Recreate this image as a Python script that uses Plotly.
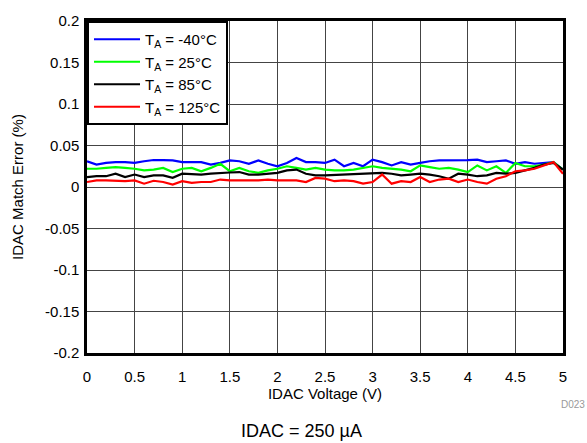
import plotly.graph_objects as go

voltage = [round(i * 0.1, 1) for i in range(51)]

err_m40 = [0.031, 0.027, 0.029, 0.030, 0.030, 0.029, 0.031, 0.0325, 0.0325, 0.032,
           0.030, 0.030, 0.030, 0.027, 0.029, 0.032, 0.031, 0.028, 0.032, 0.028,
           0.025, 0.029, 0.035, 0.030, 0.030, 0.029, 0.033, 0.025, 0.029, 0.025,
           0.033, 0.030, 0.026, 0.030, 0.027, 0.029, 0.031, 0.032, 0.032, 0.032,
           0.0325, 0.033, 0.030, 0.031, 0.032, 0.028, 0.030, 0.028, 0.029, 0.030,
           0.021]
err_25 = [0.022, 0.022, 0.023, 0.024, 0.023, 0.022, 0.020, 0.021, 0.023, 0.018,
          0.022, 0.023, 0.019, 0.023, 0.028, 0.019, 0.023, 0.019, 0.017, 0.020,
          0.022, 0.025, 0.023, 0.021, 0.023, 0.021, 0.020, 0.020, 0.021, 0.023,
          0.025, 0.023, 0.022, 0.021, 0.019, 0.026, 0.024, 0.022, 0.023, 0.021,
          0.018, 0.026, 0.020, 0.025, 0.017, 0.029, 0.025, 0.025, 0.027, 0.030,
          0.021]
err_85 = [0.012, 0.013, 0.013, 0.016, 0.012, 0.015, 0.012, 0.014, 0.014, 0.011,
          0.016, 0.0155, 0.015, 0.016, 0.017, 0.0175, 0.018, 0.015, 0.015, 0.016,
          0.017, 0.020, 0.021, 0.016, 0.014, 0.014, 0.0145, 0.015, 0.015, 0.0155,
          0.016, 0.017, 0.016, 0.014, 0.015, 0.016, 0.015, 0.013, 0.010, 0.016,
          0.015, 0.013, 0.014, 0.017, 0.016, 0.017, 0.020, 0.023, 0.027, 0.029,
          0.021]
err_125 = [0.006, 0.008, 0.008, 0.0075, 0.007, 0.008, 0.004, 0.0075, 0.006, 0.003,
           0.007, 0.005, 0.006, 0.006, 0.009, 0.008, 0.008, 0.008, 0.008, 0.009,
           0.008, 0.008, 0.008, 0.006, 0.011, 0.010, 0.007, 0.008, 0.007, 0.004,
           0.006, 0.015, 0.004, 0.007, 0.006, 0.012, 0.006, 0.009, 0.010, 0.006,
           0.009, 0.006, 0.004, 0.010, 0.013, 0.019, 0.020, 0.022, 0.026, 0.030,
           0.016]

series_names = ["T<sub>A</sub> = -40°C", "T<sub>A</sub> = 25°C",
                "T<sub>A</sub> = 85°C", "T<sub>A</sub> = 125°C"]
series_values = [err_m40, err_25, err_85, err_125]
series_colors = ["#0000FF", "#00FF00", "#000000", "#FF0000"]

x_tickvals = [0, 0.5, 1, 1.5, 2, 2.5, 3, 3.5, 4, 4.5, 5]
x_ticktext = ["0", "0.5", "1", "1.5", "2", "2.5", "3", "3.5", "4", "4.5", "5"]
y_tickvals = [0.2, 0.15, 0.1, 0.05, 0, -0.05, -0.1, -0.15, -0.2]
y_ticktext = ["0.2", "0.15", "0.1", "0.05", "0", "-0.05", "-0.1", "-0.15", "-0.2"]

FONT = "Liberation Sans, Arial, sans-serif"

fig = go.Figure()
for name, vals, col in zip(series_names, series_values, series_colors):
    fig.add_trace(go.Scatter(x=voltage, y=vals, mode="lines", name=name,
                             line=dict(color=col, width=2.2)))

fig.update_layout(
    width=587, height=443,
    margin=dict(l=87, r=24, t=17, b=90),
    paper_bgcolor="white", plot_bgcolor="white",
    font=dict(family=FONT, size=15, color="black"),
    showlegend=True,
    legend=dict(x=0, y=1, xanchor="left", yanchor="top",
                bgcolor="white", bordercolor="black", borderwidth=2,
                font=dict(family=FONT, size=15, color="black"),
                tracegroupgap=0, itemwidth=46),
    xaxis=dict(range=[0, 5], tickvals=x_tickvals, ticktext=x_ticktext,
               showgrid=True, gridcolor="#444444", gridwidth=1,
               showline=True, linecolor="black", linewidth=2.5, mirror=True,
               ticks="", zeroline=False, tickfont=dict(size=15),
               ticklabelstandoff=8,
               title=dict(text="IDAC Voltage (V)", font=dict(size=15), standoff=4)),
    yaxis=dict(range=[-0.2, 0.2], tickvals=y_tickvals, ticktext=y_ticktext,
               showgrid=True, gridcolor="#444444", gridwidth=1,
               showline=True, linecolor="black", linewidth=2.5, mirror=True,
               ticks="", zeroline=False, tickfont=dict(size=15),
               ticklabelstandoff=2,
               title=dict(text="IDAC Match Error (%)", font=dict(size=15), standoff=18)),
    annotations=[
        dict(text="D023", xref="paper", yref="paper", x=(587 - 87) / 476, y=-0.155,
             xanchor="right", yanchor="middle", showarrow=False,
             font=dict(family=FONT, size=10, color="#999999")),
        dict(text="IDAC = 250 µA", xref="paper", yref="paper", x=0.45, y=-0.235,
             xanchor="center", yanchor="middle", showarrow=False,
             font=dict(family=FONT, size=18, color="black")),
    ],
)

fig.write_html("out.html", config={"displayModeBar": False},
               post_script="document.body.style.margin='0px';document.body.style.padding='0px';")
